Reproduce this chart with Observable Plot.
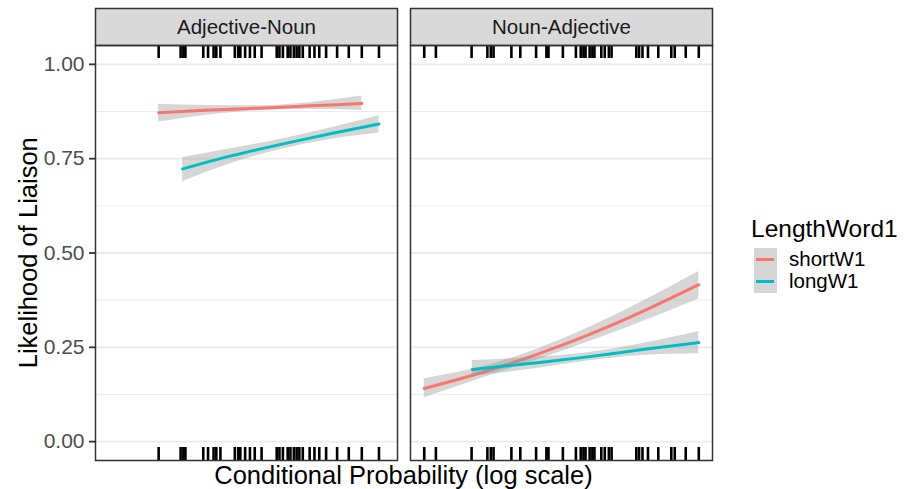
<!DOCTYPE html>
<html>
<head>
<meta charset="utf-8">
<script src="https://cdn.jsdelivr.net/npm/d3@7"></script>
<script src="https://cdn.jsdelivr.net/npm/@observablehq/plot@0.6"></script>
<style>
  body { margin: 0; background: #fff; }
  #wrap { position: relative; width: 909px; height: 489px; font-family: "Liberation Sans", Arial, sans-serif; }
  #wrap svg { position: absolute; left: 0; top: 0; }
  .ov { position: absolute; white-space: nowrap; color: #000; }
</style>
</head>
<body>
<div id="wrap"></div>
<script>
// ---- data ----
const facetNames = ["Adjective-Noun", "Noun-Adjective"];
const seriesNames = ["shortW1", "longW1"];
const seriesColors = ["#F8766D", "#00BFC4"];
const yTicks = [0, 0.25, 0.5, 0.75, 1.0];
const yMinor = [0.125, 0.375, 0.625, 0.875];

// x = log conditional probability (arbitrary log units; no tick labels in the original)
const xShortAN = [-3.28, -2.54, -1.80, -1.06, -0.32];
const fitShortAN = [0.872, 0.879, 0.884, 0.890, 0.896];
const loShortAN = [0.847, 0.866, 0.8775, 0.881, 0.878];
const hiShortAN = [0.894, 0.891, 0.8905, 0.899, 0.916];

const xLongAN = [-2.93, -2.21, -1.50, -0.78, -0.07];
const fitLongAN = [0.723, 0.758, 0.788, 0.816, 0.842];
const loLongAN = [0.689, 0.738, 0.7745, 0.801, 0.818];
const hiLongAN = [0.753, 0.777, 0.8015, 0.831, 0.864];

const xShortNA = [-4.0, -3.0, -2.0, -1.0, 0.0];
const fitShortNA = [0.141, 0.192, 0.255, 0.330, 0.416];
const loShortNA = [0.116, 0.178, 0.239, 0.305, 0.378];
const hiShortNA = [0.167, 0.206, 0.271, 0.355, 0.451];

const xLongNA = [-3.30, -2.47, -1.65, -0.82, 0.0];
const fitLongNA = [0.191, 0.207, 0.224, 0.244, 0.2625];
const loLongNA = [0.173, 0.191, 0.213, 0.228, 0.233];
const hiLongNA = [0.215, 0.223, 0.235, 0.260, 0.292];

const rugAN = [-3.28, -2.96, -2.92, -2.89, -2.63, -2.56, -2.48, -2.44, -2.38, -2.17, -2.12, -2.09,
  -2.02, -1.95, -1.88, -1.78, -1.56, -1.52, -1.47, -1.40, -1.36, -1.31, -1.27, -1.23, -1.18,
  -1.08, -1.01, -0.94, -0.84, -0.68, -0.51, -0.32, -0.07];
const rugNA = [-4.00, -3.83, -3.31, -3.08, -3.03, -2.99, -2.73, -2.60, -2.37, -2.22, -2.19, -1.98,
  -1.79, -1.72, -1.68, -1.65, -1.59, -1.55, -1.52, -1.42, -1.37, -1.31, -1.27, -0.91, -0.87,
  -0.82, -0.74, -0.59, -0.40, -0.35, -0.19, 0.00];

// ---- tables built from the arrays ----
function rows(facet, series, xs, fit, lo, hi) {
  return xs.map((x, i) => ({facet, series, x, fit: fit[i], lo: lo[i], hi: hi[i]}));
}
const shortRows = [
  ...rows(facetNames[0], seriesNames[0], xShortAN, fitShortAN, loShortAN, hiShortAN),
  ...rows(facetNames[1], seriesNames[0], xShortNA, fitShortNA, loShortNA, hiShortNA)
];
const longRows = [
  ...rows(facetNames[0], seriesNames[1], xLongAN, fitLongAN, loLongAN, hiLongAN),
  ...rows(facetNames[1], seriesNames[1], xLongNA, fitLongNA, loLongNA, hiLongNA)
];
const rug = [
  ...rugAN.map(x => ({facet: facetNames[0], x})),
  ...rugNA.map(x => ({facet: facetNames[1], x}))
];

const W = 909, H = 489;
const mTop = 45, mBottom = 29, mLeft = 94, mRight = 196;
const panelH = H - mTop - mBottom;
const stripH = 37;
const rugLen = 13;

const bandOpts = {fx: "facet", x: "x", y1: "lo", y2: "hi", z: "series", fill: "#999999", fillOpacity: 0.4, curve: "monotone-x"};
const lineOpts = {fx: "facet", x: "x", y: "fit", stroke: "series", z: "series", strokeWidth: 3, curve: "monotone-x"};

const chart = Plot.plot({
  width: W,
  height: H,
  marginTop: mTop,
  marginBottom: mBottom,
  marginLeft: mLeft,
  marginRight: mRight,
  style: {fontFamily: "'Liberation Sans', Arial, sans-serif", fontSize: "20px", background: "transparent"},
  fx: {domain: facetNames, axis: null, paddingInner: 0.0411, paddingOuter: 0, label: null},
  x: {domain: [-4.2, 0.2], axis: null},
  y: {domain: [-0.05, 1.05]},
  color: {domain: seriesNames, range: seriesColors},
  marks: [
    Plot.ruleY(yMinor, {stroke: "#ebebeb", strokeWidth: 0.9}),
    Plot.ruleY(yTicks, {stroke: "#ebebeb", strokeWidth: 1.8}),
    Plot.areaY(shortRows, bandOpts),
    Plot.lineY(shortRows, lineOpts),
    Plot.areaY(longRows, bandOpts),
    Plot.lineY(longRows, lineOpts),
    Plot.ruleX(rug, {fx: "facet", x: "x", insetBottom: panelH - rugLen, stroke: "#000", strokeWidth: 2.6, shapeRendering: "auto"}),
    Plot.ruleX(rug, {fx: "facet", x: "x", insetTop: panelH - rugLen, stroke: "#000", strokeWidth: 2.6, shapeRendering: "auto"}),
    Plot.frame({fill: "#d9d9d9", stroke: "#333333", strokeWidth: 1.5, insetTop: -stripH, insetBottom: panelH}),
    Plot.text(facetNames, {fx: d => d, text: d => d, frameAnchor: "top", lineAnchor: "middle", dy: -stripH / 2, fill: "#1a1a1a", fontSize: 20.5}),
    Plot.frame({stroke: "#333333", strokeWidth: 1.5}),
    Plot.axisY({ticks: yTicks, tickFormat: d3.format(".2f"), tickSize: 6, tickPadding: 5,
      stroke: "#333333", strokeWidth: 1.8, fill: "#4d4d4d", fontSize: 21, label: null})
  ]
});

const wrap = document.getElementById("wrap");
wrap.appendChild(chart);

function ov(text, css) {
  const d = document.createElement("div");
  d.className = "ov";
  d.textContent = text;
  Object.assign(d.style, css);
  wrap.appendChild(d);
  return d;
}
// axis titles
ov("Conditional Probability (log scale)", {left: (403.5 - 300) + "px", top: "463px", width: "600px", textAlign: "center", fontSize: "25.5px", lineHeight: "25.5px"});
ov("Likelihood of Liaison", {left: (29 - 200) + "px", top: (252.5 - 12.75) + "px", width: "400px", textAlign: "center", fontSize: "25.5px", lineHeight: "25.5px", transform: "rotate(-90deg)"});
// legend
ov("LengthWord1", {left: "751px", top: "217px", fontSize: "24.5px", lineHeight: "24.5px"});
const key = document.createElement("div");
Object.assign(key.style, {position: "absolute", left: "754px", top: "248px", width: "23px", height: "45px", background: "#d6d6d6"});
wrap.appendChild(key);
seriesNames.forEach((s, i) => {
  const cy = 259.3 + i * 22.5;
  const ln = document.createElement("div");
  Object.assign(ln.style, {position: "absolute", left: "756px", top: (cy - 1.5) + "px", width: "18px", height: "3px", background: seriesColors[i]});
  wrap.appendChild(ln);
  ov(s, {left: "789px", top: (cy - 10.5) + "px", fontSize: "20.5px", lineHeight: "20.5px"});
});
</script>
</body>
</html>
